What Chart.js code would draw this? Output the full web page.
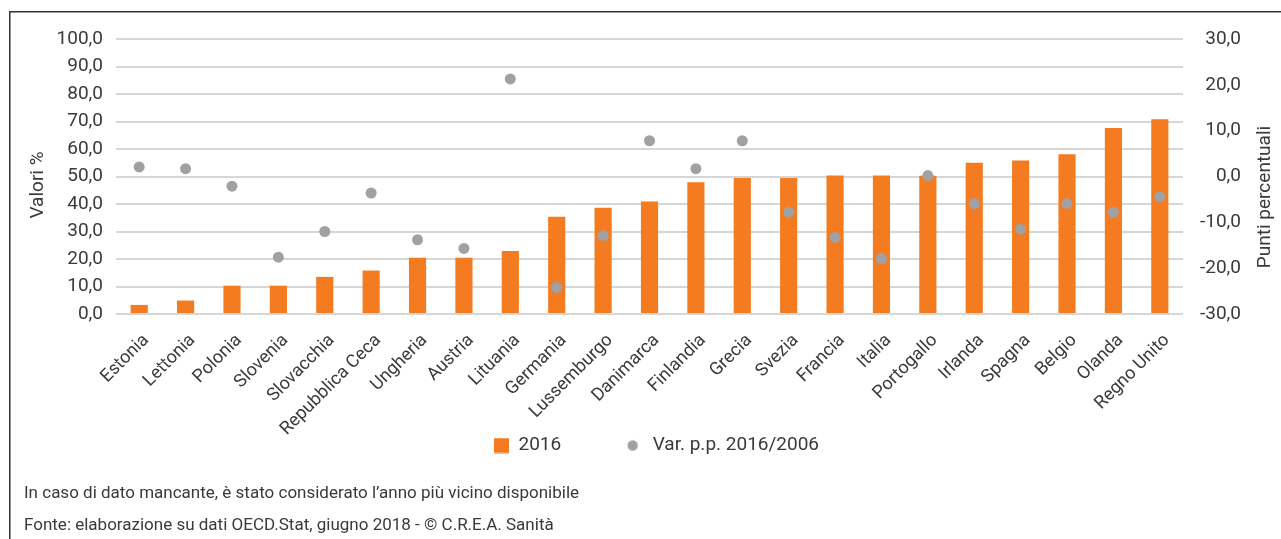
<!DOCTYPE html>
<html>
<head>
<meta charset="utf-8">
<script src="https://cdn.jsdelivr.net/npm/chart.js@4.4.1/dist/chart.umd.min.js"></script>
<style>
  html, body { margin: 0; padding: 0; background: #ffffff; }
  #wrap { position: relative; width: 1281px; height: 539px; }
  canvas { display: block; }
</style>
</head>
<body>
<div id="wrap"><canvas id="chart" width="1281" height="539"></canvas></div>
<script>
// Paesi ordinati per valore 2016
const countries = ['Estonia', 'Lettonia', 'Polonia', 'Slovenia', 'Slovacchia', 'Repubblica Ceca',
  'Ungheria', 'Austria', 'Lituania', 'Germania', 'Lussemburgo', 'Danimarca', 'Finlandia',
  'Grecia', 'Svezia', 'Francia', 'Italia', 'Portogallo', 'Irlanda', 'Spagna', 'Belgio',
  'Olanda', 'Regno Unito'];

// Valori % 2016 (asse sinistro)
const values2016 = [3.3, 4.9, 10.3, 10.3, 13.5, 15.8, 20.5, 20.5, 22.9, 35.4, 38.6, 40.9,
  47.9, 49.5, 49.5, 50.4, 50.4, 50.3, 55.0, 55.8, 58.1, 67.6, 70.8];

// Variazione in punti percentuali 2016/2006 (asse destro)
const variation = [2.1, 1.7, -2.1, -17.6, -12.0, -3.6, -13.8, -15.7, 21.3, -24.2, -12.9, 7.8,
  1.7, 7.8, -7.8, -13.3, -17.9, 0.2, -5.9, -11.5, -5.9, -7.8, -4.4];

const seriesLabels = ['2016', 'Var. p.p. 2016/2006'];
const leftTicks = { min: 0, max: 100, step: 10 };
const rightTicks = { min: -30, max: 30, step: 10 };
const axisTitles = ['Valori %', 'Punti percentuali'];
const notes = [
  'In caso di dato mancante, è stato considerato l\u2019anno più vicino disponibile',
  'Fonte: elaborazione su dati OECD.Stat, giugno 2018 - © C.R.E.A. Sanità'
];

const ORANGE = '#f47b20';
const GREY = '#a0a1a5';
const TEXT = '#3a3a3a';
const GRID = '#d6d6d6';
const FONT = "Roboto, 'Liberation Sans', sans-serif";
const FS = 19;

Chart.defaults.font.family = FONT;
Chart.defaults.font.size = FS;
Chart.defaults.color = TEXT;

const fmt = v => Number(v).toFixed(1).replace('.', ',');

// Legend markers: each sits at the right end of a wide transparent box
const MARK_BOX = 82;
function marker(kind) {
  const c = document.createElement('canvas');
  c.width = MARK_BOX; c.height = 16;
  const g = c.getContext('2d');
  if (kind === 'square') {
    g.fillStyle = ORANGE;
    g.fillRect(MARK_BOX - 15, 0.5, 15, 15);
  } else {
    g.fillStyle = GREY;
    g.beginPath();
    g.arc(MARK_BOX - 10.5, 8, 5.2, 0, Math.PI * 2);
    g.fill();
  }
  return c;
}
const legendMarks = [marker('square'), marker('circle')];

// Frame, axis titles and footnotes
const decorations = {
  id: 'decorations',
  beforeDraw(chart) {
    const ctx = chart.ctx;
    ctx.save();
    ctx.strokeStyle = '#333333';
    ctx.lineWidth = 1.5;
    ctx.beginPath();
    ctx.moveTo(9.75, 539);
    ctx.lineTo(9.75, 11.75);
    ctx.lineTo(1281, 11.75);
    ctx.stroke();
    ctx.restore();
  },
  afterDraw(chart) {
    const ctx = chart.ctx;
    ctx.save();
    ctx.fillStyle = TEXT;
    ctx.font = FS + 'px ' + FONT;
    ctx.textAlign = 'center';
    ctx.textBaseline = 'middle';
    [[axisTitles[0], 38, 185], [axisTitles[1], 1265, 197]].forEach(([t, x, y]) => {
      ctx.save();
      ctx.translate(x, y);
      ctx.rotate(-Math.PI / 2);
      ctx.fillText(t, 0, 0);
      ctx.restore();
    });
    ctx.font = '17px ' + FONT;
    ctx.textAlign = 'left';
    ctx.textBaseline = 'alphabetic';
    ctx.fillText(notes[0], 24, 498);
    ctx.fillText(notes[1], 24, 530);
    ctx.restore();
  }
};

new Chart(document.getElementById('chart'), {
  type: 'bar',
  data: {
    labels: countries,
    datasets: [
      {
        type: 'bar',
        label: seriesLabels[0],
        data: values2016,
        yAxisID: 'y',
        backgroundColor: ORANGE,
        borderWidth: 0,
        barPercentage: 0.37,
        categoryPercentage: 1.0,
        order: 1
      },
      {
        type: 'line',
        label: seriesLabels[1],
        data: variation,
        yAxisID: 'y1',
        showLine: false,
        pointRadius: 5.5,
        pointHoverRadius: 5.5,
        pointBackgroundColor: GREY,
        pointBorderWidth: 0,
        backgroundColor: GREY,
        borderColor: GREY,
        order: 0
      }
    ]
  },
  options: {
    responsive: false,
    animation: false,
    layout: { padding: { left: 5, right: 40, top: 39, bottom: 74 } },
    plugins: {
      tooltip: { enabled: false },
      legend: {
        position: 'bottom',
        labels: {
          usePointStyle: true,
          pointStyleWidth: MARK_BOX,
          boxHeight: 16,
          padding: 0,
          font: { size: FS },
          color: TEXT,
          generateLabels(chart) {
            return chart.data.datasets.map((ds, i) => ({
              text: ds.label,
              fillStyle: i === 0 ? ORANGE : GREY,
              strokeStyle: 'rgba(0,0,0,0)',
              lineWidth: 0,
              pointStyle: legendMarks[i],
              hidden: false,
              datasetIndex: i,
              fontColor: TEXT
            }));
          }
        }
      }
    },
    scales: {
      x: {
        grid: { display: false },
        border: { display: false },
        ticks: {
          autoSkip: false,
          maxRotation: 45,
          minRotation: 45,
          padding: 8,
          labelOffset: 7,
          font: { size: 18 }
        },
        afterFit(scale) { scale.height = 122; }
      },
      y: {
        position: 'left',
        min: leftTicks.min,
        max: leftTicks.max,
        border: { display: false },
        grid: { color: GRID, lineWidth: 2, drawTicks: false },
        ticks: { stepSize: leftTicks.step, padding: 13, callback: v => fmt(v), font: { size: FS } },
        afterFit(scale) { scale.width = 111; }
      },
      y1: {
        position: 'right',
        min: rightTicks.min,
        max: rightTicks.max,
        border: { display: false },
        grid: { display: false, drawOnChartArea: false },
        ticks: { stepSize: rightTicks.step, padding: 16, crossAlign: 'far', callback: v => fmt(v), font: { size: FS } },
        afterFit(scale) { scale.width = 58; }
      }
    }
  },
  plugins: [decorations]
});
</script>
</body>
</html>
